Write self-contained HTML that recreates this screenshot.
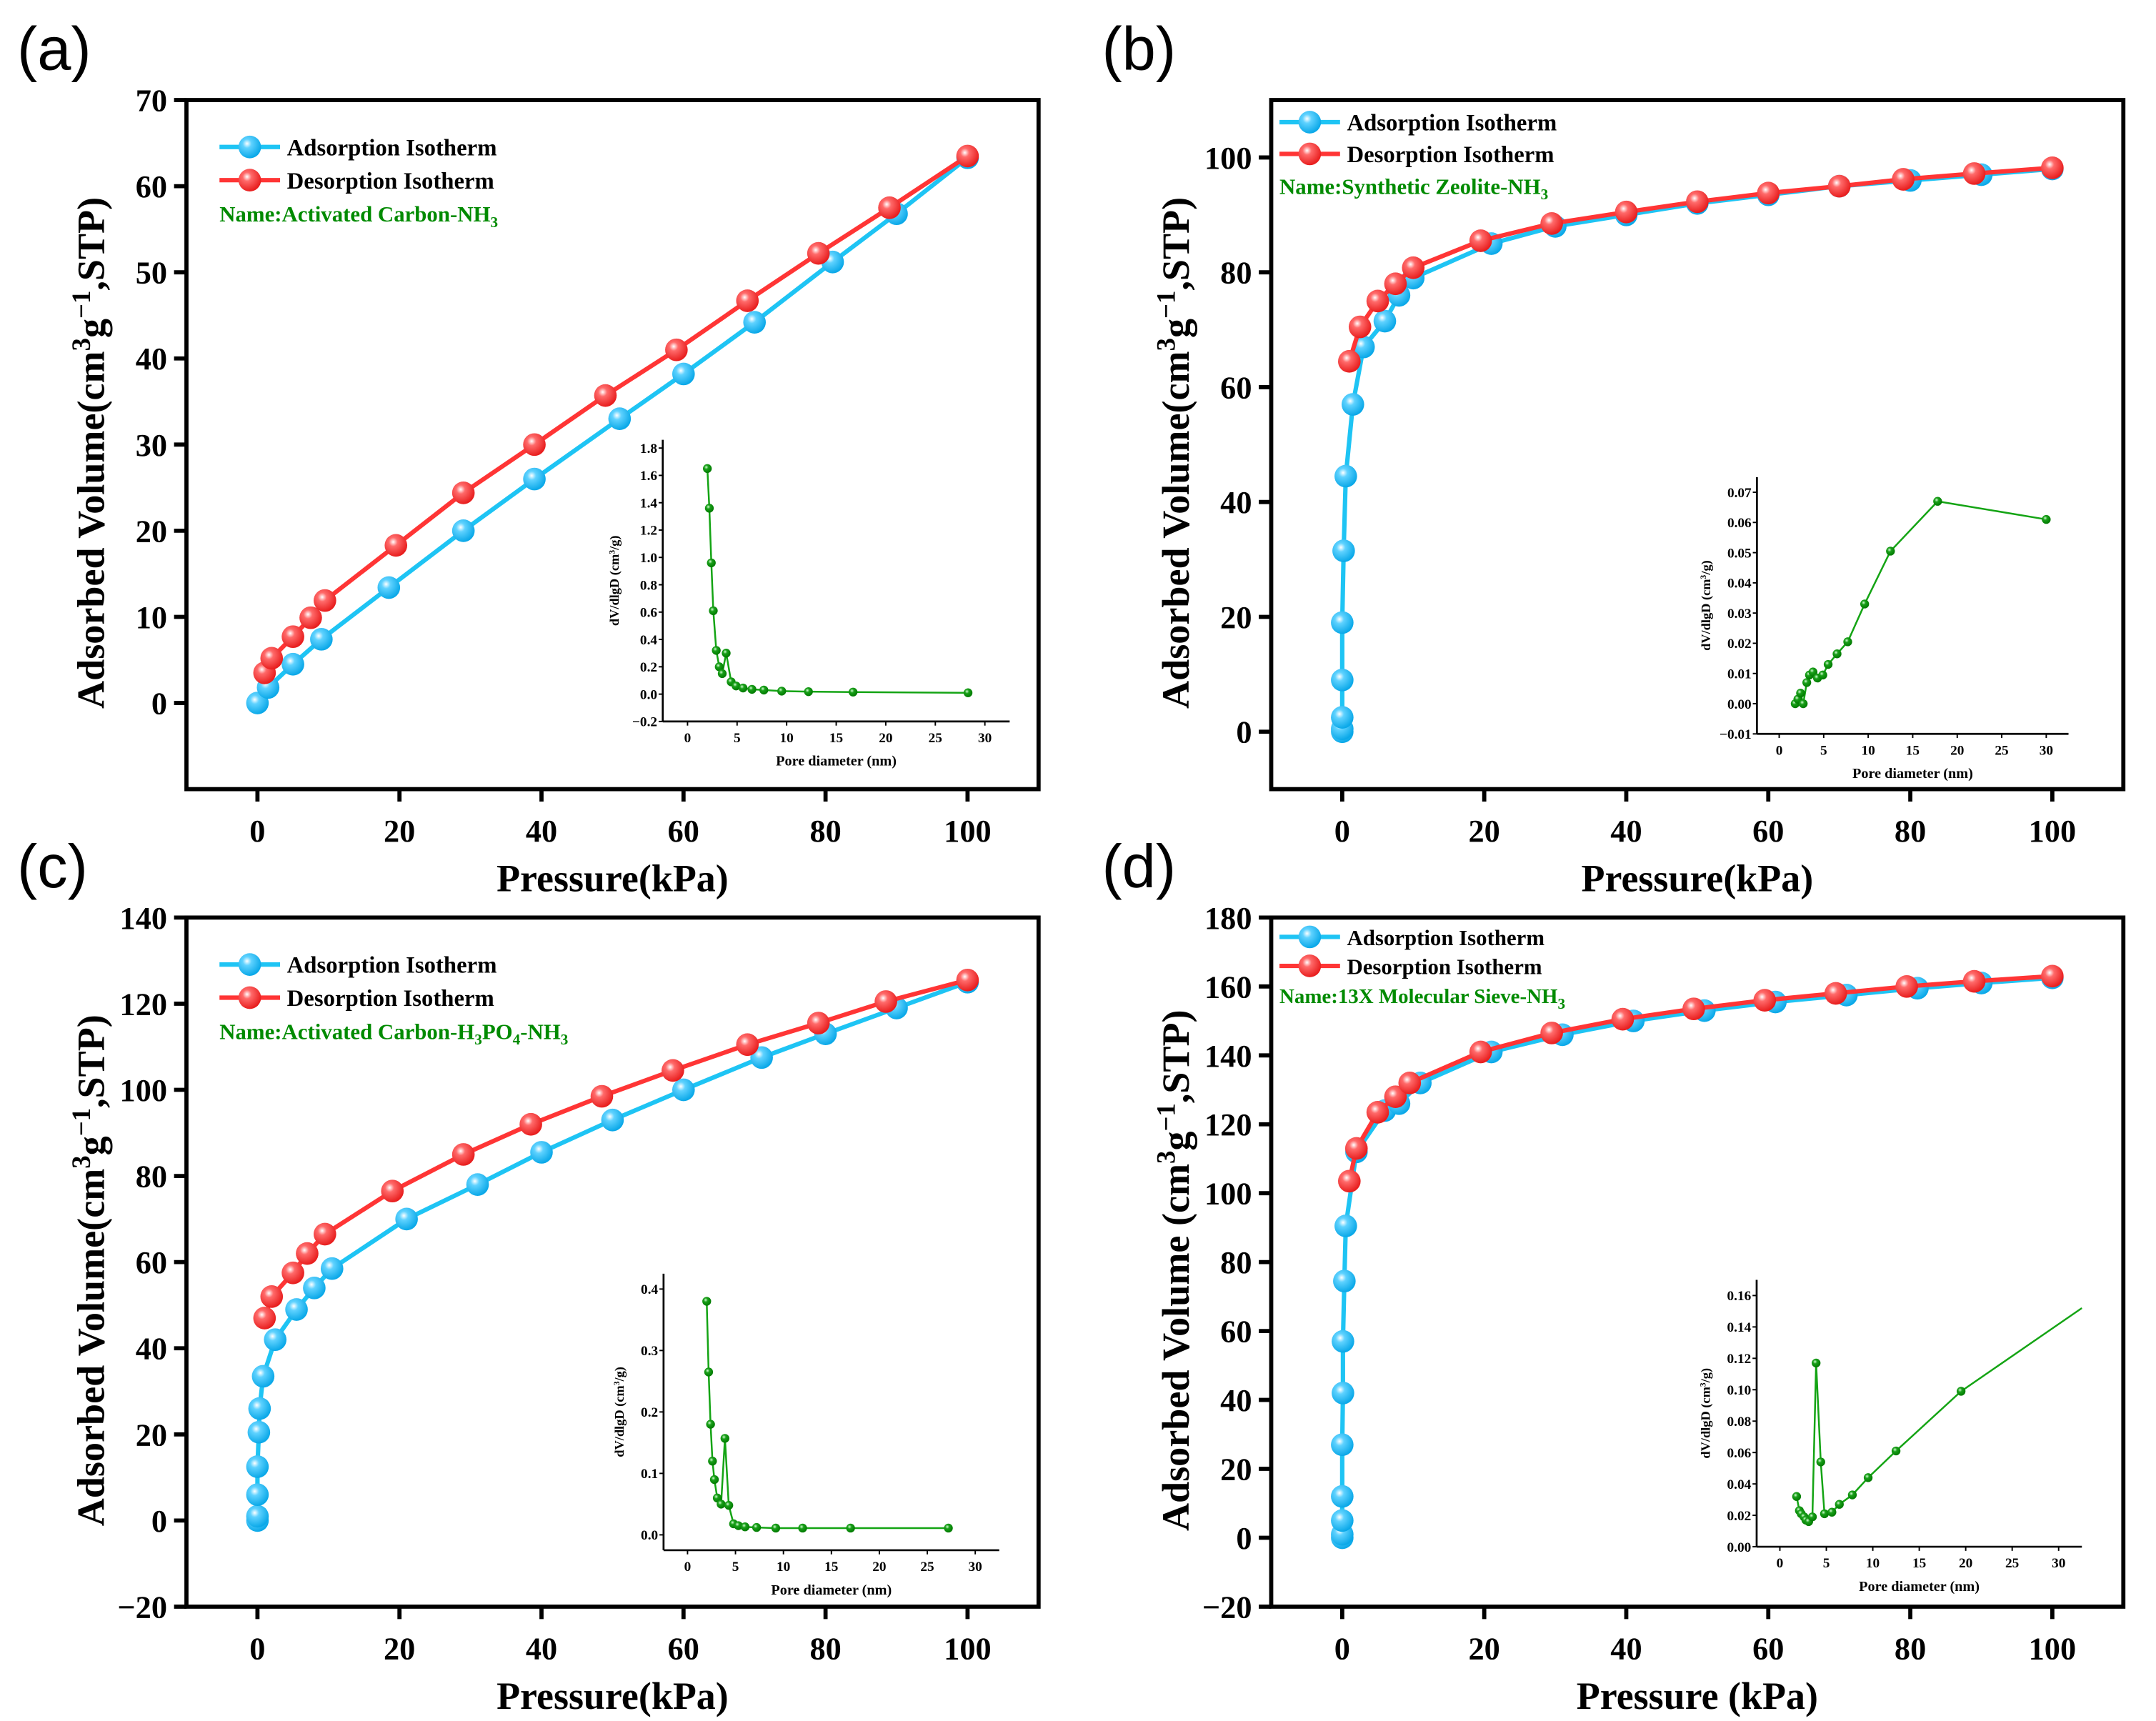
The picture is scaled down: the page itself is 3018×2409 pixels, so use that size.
<!DOCTYPE html>
<html><head><meta charset="utf-8">
<style>
html,body{margin:0;padding:0;background:#fff;}
svg{display:block;}
text{font-family:"Liberation Serif",serif;}
</style></head>
<body>
<svg id="fig" xmlns="http://www.w3.org/2000/svg" width="3018" height="2409" viewBox="0 0 3018 2409">
<defs>
<radialGradient id="gBlue" cx="38%" cy="35%" r="65%"><stop offset="0" stop-color="#ffffff"/><stop offset="0.3" stop-color="#5fd2ff"/><stop offset="1" stop-color="#0aa8e8"/></radialGradient>
<radialGradient id="gRed" cx="38%" cy="35%" r="65%"><stop offset="0" stop-color="#ffffff"/><stop offset="0.3" stop-color="#ff6a6a"/><stop offset="1" stop-color="#e81e1e"/></radialGradient>
<radialGradient id="gGreen" cx="38%" cy="35%" r="65%"><stop offset="0" stop-color="#d8ffd8"/><stop offset="0.35" stop-color="#1aa01a"/><stop offset="1" stop-color="#007a00"/></radialGradient>
</defs>
<g id="root" transform="matrix(1.927 0 0 1.933 4.7 2.8)"></g>
</svg>
<script>
// ---------- Data: main isotherms (Pressure kPa, Volume cm3/g) ----------
const aAdsX=[0,1.5,5,9,18.5,29,39,51,60,70,81,90,100];
const aAdsY=[0,1.8,4.5,7.4,13.4,20,26,33,38.2,44.2,51.2,56.8,63.3];
const aDesX=[1,2,5,7.5,9.5,19.5,29,39,49,59,69,79,89,100];
const aDesY=[3.5,5.2,7.7,9.9,11.9,18.3,24.4,30,35.7,41,46.7,52.2,57.5,63.5];
const bAdsX=[0,0,0,0,0,0.2,0.5,1.5,3,6,8,10,21,30,40,50,60,70,80,90,100];
const bAdsY=[0,0.5,2.5,9,19,31.5,44.5,57,67,71.5,76,79,85,88,90,92,93.5,95,96,97,98];
const bDesX=[1,2.5,5,7.5,10,19.5,29.5,40,50,60,70,79,89,100];
const bDesY=[64.5,70.5,75,78,80.8,85.5,88.5,90.5,92.3,93.8,95,96.2,97.2,98.2];
const cAdsX=[0,0,0,0,0.2,0.3,0.8,2.5,5.5,8,10.5,21,31,40,50,60,71,80,90,100];
const cAdsY=[0,1,6,12.5,20.5,26,33.5,42,49,54,58.5,70,78,85.5,93,100,107.5,113,119,125];
const cDesX=[1,2,5,7,9.5,19,29,38.5,48.5,58.5,69,79,88.5,100];
const cDesY=[47,52,57.5,62,66.5,76.5,85,92,98.5,104.5,110.5,115.5,120.5,125.5];
const dAdsX=[0,0,0,0,0,0.1,0.1,0.3,0.5,2,6,8,11,21,31,41,51,61,71,81,90,100];
const dAdsY=[0,1,5,12,27,42,57,74.5,90.5,112,124,126,132,141,146,150,153,155.5,157.5,159.5,161,162.5];
const dDesX=[1,2,5,7.5,9.5,19.5,29.5,39.5,49.5,59.5,69.5,79.5,89,100];
const dDesY=[103.5,113,123.5,128,132,141,146.5,150.5,153.5,156,158,160,161.5,163];
// ---------- Data: pore size insets (nm, dV/dlgD) ----------
const aPoreX=[2,2.2,2.4,2.6,2.9,3.2,3.5,3.9,4.4,4.9,5.6,6.5,7.7,9.5,12.2,16.7,28.3];
const aPoreY=[1.65,1.36,0.96,0.61,0.32,0.2,0.15,0.3,0.09,0.06,0.045,0.035,0.03,0.022,0.018,0.015,0.01];
const bPoreX=[1.8,2.1,2.4,2.7,3.1,3.4,3.8,4.3,4.9,5.5,6.5,7.7,9.6,12.5,17.8,30];
const bPoreY=[0,0.0015,0.0035,0,0.007,0.0095,0.0105,0.0085,0.0095,0.013,0.0165,0.0205,0.033,0.0505,0.067,0.061];
const cPoreX=[2,2.2,2.4,2.6,2.8,3.1,3.5,3.9,4.3,4.8,5.3,6,7.2,9.2,12,17,27.2];
const cPoreY=[0.38,0.265,0.18,0.12,0.09,0.06,0.05,0.157,0.048,0.018,0.015,0.013,0.012,0.011,0.011,0.011,0.011];
const dPoreX=[1.8,2.1,2.3,2.6,2.8,3.1,3.5,3.9,4.4,4.8,5.6,6.4,7.8,9.5,12.5,19.5];
const dPoreY=[0.032,0.023,0.021,0.019,0.017,0.016,0.019,0.117,0.054,0.021,0.022,0.027,0.033,0.044,0.061,0.099];
const dTailX=[32.5];
const dTailY=[0.152];
// ---------- Tick labels ----------
const xTicksMain=[0,20,40,60,80,100];
const aYTicks=[0,10,20,30,40,50,60,70];
const bYTicks=[0,20,40,60,80,100];
const cYTicks=[-20,0,20,40,60,80,100,120,140];
const dYTicks=[-20,0,20,40,60,80,100,120,140,160,180];
const poreXTicks=[0,5,10,15,20,25,30];
const aPoreYTicks=[-0.2,0,0.2,0.4,0.6,0.8,1.0,1.2,1.4,1.6,1.8];
const bPoreYTicks=[-0.01,0,0.01,0.02,0.03,0.04,0.05,0.06,0.07];
const cPoreYTicks=[0,0.1,0.2,0.3,0.4];
const dPoreYTicks=[0,0.02,0.04,0.06,0.08,0.1,0.12,0.14,0.16];

const NS="http://www.w3.org/2000/svg";
const root=document.getElementById('root');
function mk(tag,attrs,parent){const e=document.createElementNS(NS,tag);for(const k in attrs)e.setAttribute(k,attrs[k]);(parent||root).appendChild(e);return e;}
function scale(d0,d1,r0,r1){return v=>r0+(v-d0)*(r1-r0)/(d1-d0);}
function fmtMinus(s){return s.replace('-','\u2212');}

function mainPanel(cfg){
  const g=mk('g',{});
  
  
  const sx=scale(cfg.xd[0],cfg.xd[1],cfg.L,cfg.R), sy=scale(cfg.yd[0],cfg.yd[1],cfg.B,cfg.T);
  const pl=mk('text',{x:cfg.L-123,y:cfg.T-22,'font-size':44,style:'font-family:"Liberation Sans",sans-serif'},g);
  pl.textContent=cfg.letter;
  
  
  const fr=mk('rect',{x:cfg.L,y:cfg.T,width:cfg.R-cfg.L,height:cfg.B-cfg.T,fill:'none',stroke:'#000','stroke-width':3},g);
  
  
  cfg.xt.forEach(v=>{
    const x=sx(v);
    mk('line',{x1:x,x2:x,y1:cfg.B,y2:cfg.B+9,stroke:'#000','stroke-width':3},g);
    const t=mk('text',{x:x,y:cfg.B+38,'font-size':23,'font-weight':'bold','text-anchor':'middle'},g);
    t.textContent=String(v);
    
    
  });
  cfg.yt.forEach(v=>{
    const y=sy(v);
    mk('line',{x1:cfg.L-9,x2:cfg.L,y1:y,y2:y,stroke:'#000','stroke-width':3},g);
    const t=mk('text',{x:cfg.L-14,y:y+8,'font-size':23,'font-weight':'bold','text-anchor':'end'},g);
    t.textContent=fmtMinus(String(v));
    
    
  });
  const xt=mk('text',{x:(cfg.L+cfg.R)/2,y:cfg.B+74,'font-size':28,'font-weight':'bold','text-anchor':'middle'},g);
  xt.textContent=cfg.xtitle;
  
  
  const cy=(cfg.T+cfg.B)/2+6;
  const yt=mk('text',{x:0,y:0,'font-size':28,'font-weight':'bold','text-anchor':'middle',transform:`translate(${cfg.L-60},${cy}) rotate(-90)`},g);
  yt.innerHTML=cfg.ytitlePre+'(cm<tspan dy="-10" font-size="19">3</tspan><tspan dy="10">g</tspan><tspan dy="-10" font-size="19">\u22121</tspan><tspan dy="10">,STP)</tspan>';
  
  
  function series(xs,ys,color,grad,nm){
    const sg=mk('g',{},g);
    
    
    const pts=xs.map((x,i)=>sx(x)+','+sy(ys[i])).join(' ');
    mk('polyline',{points:pts,fill:'none',stroke:color,'stroke-width':3.2},sg);
    xs.forEach((x,i)=>{
      const c=mk('circle',{cx:sx(x),cy:sy(ys[i]),r:8.2,fill:`url(#${grad})`},sg);
      
      
    });
  }
  series(cfg.adsX,cfg.adsY,'#1ec4f4','gBlue','adsorption-series');
  series(cfg.desX,cfg.desY,'#ff3535','gRed','desorption-series');
  const lg=mk('g',{},g);
  
  
  const L0=cfg.legX, ly=cfg.legY, fs=cfg.legFs;
  [['Adsorption Isotherm','#1ec4f4','gBlue'],['Desorption Isotherm','#ff3535','gRed']].forEach((it,i)=>{
    const y=ly[i];
    const e=mk('g',{},lg);
    
    
    mk('line',{x1:L0,x2:L0+44,y1:y,y2:y,stroke:it[1],'stroke-width':3.2},e);
    mk('circle',{cx:L0+22,cy:y,r:8.2,fill:`url(#${it[2]})`},e);
    const t=mk('text',{x:L0+49,y:y+6,'font-size':fs,'font-weight':'bold'},e);
    t.textContent=it[0];
  });
  const nt=mk('text',{x:L0,y:ly[2],'font-size':fs-1,'font-weight':'bold',fill:'#008a00'},lg);
  nt.innerHTML=cfg.nameText;
  
  
}

function inset(cfg){
  const g=mk('g',{});
  
  
  const pxn=(cfg.x30-cfg.x0)/30;
  const sx=v=>cfg.x0+v*pxn;
  const sy=scale(cfg.ya[0],cfg.ya[1],cfg.yp[0],cfg.yp[1]);
  const axL=sx(-2.5), axR=sx(32.5), axB=sy(cfg.ymin), axT=sy(cfg.ymax);
  mk('line',{x1:axL,x2:axR,y1:axB,y2:axB,stroke:'#000','stroke-width':1.4},g);
  mk('line',{x1:axL,x2:axL,y1:axB,y2:axT,stroke:'#000','stroke-width':1.4},g);
  poreXTicks.forEach(v=>{
    const x=sx(v);
    mk('line',{x1:x,x2:x,y1:axB,y2:axB+3,stroke:'#000','stroke-width':1},g);
    const t=mk('text',{x:x,y:axB+15,'font-size':10,'font-weight':'bold','text-anchor':'middle'},g);
    t.textContent=String(v);
    
    
  });
  cfg.yt.forEach(v=>{
    const y=sy(v);
    mk('line',{x1:axL-3,x2:axL,y1:y,y2:y,stroke:'#000','stroke-width':1},g);
    const t=mk('text',{x:axL-4,y:y+3.5,'font-size':10,'font-weight':'bold','text-anchor':'end'},g);
    t.textContent=fmtMinus(v.toFixed(cfg.dec));
    
    
  });
  const xt=mk('text',{x:sx(15),y:axB+32,'font-size':10.5,'font-weight':'bold','text-anchor':'middle'},g);
  xt.textContent='Pore diameter (nm)';
  
  
  const yt=mk('text',{x:0,y:0,'font-size':9.5,'font-weight':'bold','text-anchor':'middle',transform:`translate(${axL-cfg.ytOff},${(axB+axT)/2}) rotate(-90)`},g);
  yt.innerHTML='dV/dlgD (cm<tspan dy="-3" font-size="6">3</tspan><tspan dy="3">/g)</tspan>';
  
  
  const allX=cfg.px.concat(cfg.tx||[]), allY=cfg.py.concat(cfg.ty||[]);
  const ln=mk('polyline',{points:allX.map((x,i)=>sx(x)+','+sy(allY[i])).join(' '),fill:'none',stroke:'#14a414','stroke-width':1.3},g);
  
  
  cfg.px.forEach((x,i)=>{
    const c=mk('circle',{cx:sx(x),cy:sy(cfg.py[i]),r:3.2,fill:'url(#gGreen)'},g);
    
    
  });
}

mainPanel({name:'panel-a',letter:'(a)',L:133,R:752,T:71,B:570,xd:[-10,110],yd:[-10,70],xt:xTicksMain,yt:aYTicks,
  xtitle:'Pressure(kPa)',ytitlePre:'Adsorbed Volume',adsX:aAdsX,adsY:aAdsY,desX:aDesX,desY:aDesY,
  legX:157,legY:[105,129,159],legFs:17,nameText:'Name:Activated Carbon-NH<tspan dy="4" font-size="11">3</tspan>'});
mainPanel({name:'panel-b',letter:'(b)',L:921,R:1540,T:71,B:570,xd:[-10,110],yd:[-10,110],xt:xTicksMain,yt:bYTicks,
  xtitle:'Pressure(kPa)',ytitlePre:'Adsorbed Volume',adsX:bAdsX,adsY:bAdsY,desX:bDesX,desY:bDesY,
  legX:927,legY:[87,110,139],legFs:17,nameText:'Name:Synthetic Zeolite-NH<tspan dy="4" font-size="11">3</tspan>'});
mainPanel({name:'panel-c',letter:'(c)',L:133,R:752,T:663,B:1162,xd:[-10,110],yd:[-20,140],xt:xTicksMain,yt:cYTicks,
  xtitle:'Pressure(kPa)',ytitlePre:'Adsorbed Volume',adsX:cAdsX,adsY:cAdsY,desX:cDesX,desY:cDesY,
  legX:157,legY:[697,721,751],legFs:17,nameText:'Name:Activated Carbon-H<tspan dy="4" font-size="11">3</tspan><tspan dy="-4">PO</tspan><tspan dy="4" font-size="11">4</tspan><tspan dy="-4">-NH</tspan><tspan dy="4" font-size="11">3</tspan>'});
mainPanel({name:'panel-d',letter:'(d)',L:921,R:1540,T:663,B:1162,xd:[-10,110],yd:[-20,180],xt:xTicksMain,yt:dYTicks,
  xtitle:'Pressure (kPa)',ytitlePre:'Adsorbed Volume ',adsX:dAdsX,adsY:dAdsY,desX:dDesX,desY:dDesY,
  legX:927,legY:[677,698,725],legFs:16,nameText:'Name:13X Molecular Sieve-NH<tspan dy="4" font-size="11">3</tspan>'});

inset({name:'inset-a',x0:497,x30:713,ya:[-0.2,1.8],yp:[521,323],ymin:-0.2,ymax:1.86,yt:aPoreYTicks,dec:1,ytOff:32,px:aPoreX,py:aPoreY});
inset({name:'inset-b',x0:1290,x30:1484,ya:[-0.01,0.07],yp:[530,355],ymin:-0.01,ymax:0.075,yt:bPoreYTicks,dec:2,ytOff:34,px:bPoreX,py:bPoreY});
inset({name:'inset-c',x0:497,x30:706,ya:[0,0.4],yp:[1110,932],ymin:-0.025,ymax:0.425,yt:cPoreYTicks,dec:1,ytOff:29,px:cPoreX,py:cPoreY});
inset({name:'inset-d',x0:1290.5,x30:1493,ya:[0,0.16],yp:[1118.6,936.7],ymin:0,ymax:0.17,yt:dPoreYTicks,dec:2,ytOff:34,px:dPoreX,py:dPoreY,tx:dTailX,ty:dTailY});
</script>
</body></html>
